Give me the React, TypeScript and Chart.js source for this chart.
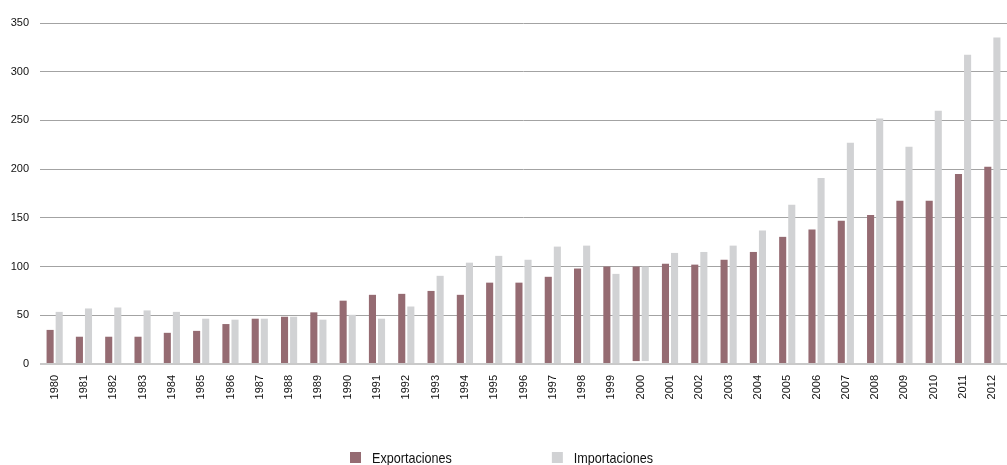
import React, { useEffect, useRef } from "react";
import { Chart, registerables } from "chart.js";

Chart.register(...registerables);

const years: string[] = [
  "1980", "1981", "1982", "1983", "1984", "1985", "1986", "1987", "1988", "1989",
  "1990", "1991", "1992", "1993", "1994", "1995", "1996", "1997", "1998", "1999",
  "2000", "2001", "2002", "2003", "2004", "2005", "2006", "2007", "2008", "2009",
  "2010", "2011", "2012",
];

const exportaciones: (number | [number, number])[] = [
  35, 28, 28, 28, 32, 34, 41, 46.5, 48.5, 53,
  65, 71, 72, 75, 71, 83.5, 83.5, 89.5, 98, 100,
  [3, 100], 103, 102, 107, 115, 130.5, 138, 147, 153, 167.5,
  167.5, 195, 202.5,
];

const importaciones: (number | [number, number])[] = [
  53.5, 57, 58, 55, 53.5, 46.5, 45.5, 46.5, 48.5, 45.5,
  50.5, 46.5, 59, 90.5, 104, 111, 107, 120.5, 121.5, 92.5,
  [3, 100], 114, 115, 121.5, 137, 163.5, 191, 227, 252, 223,
  260, 317.5, 335,
];

const yTicks: number[] = [0, 50, 100, 150, 200, 250, 300, 350];

const FONT = "'Liberation Sans', Arial, sans-serif";
const EXP_COLOR = "#956b72";
const IMP_COLOR = "#d1d2d4";
const TEXT_COLOR = "#111111";

const legendPlugin = {
  id: "customLegend",
  afterDraw(chart: any) {
    const ctx = chart.ctx;
    const ds = chart.data.datasets;
    const fontSize = 15;
    const squeeze = 0.84;
    const box = 11;
    const boxGap = 11;
    const itemGap = 100;
    ctx.save();
    ctx.font = `${fontSize}px ${FONT}`;
    const widths = ds.map((d: any) => box + boxGap + ctx.measureText(d.label).width * squeeze);
    const total = widths.reduce((a: number, b: number) => a + b, 0) + itemGap * (ds.length - 1);
    let x = (chart.width - total) / 2 - 2;
    const boxTop = chart.height - 13;
    ds.forEach((d: any, i: number) => {
      ctx.fillStyle = d.backgroundColor;
      ctx.fillRect(x, boxTop, box, box);
      ctx.fillStyle = TEXT_COLOR;
      ctx.textBaseline = "top";
      ctx.textAlign = "left";
      ctx.save();
      ctx.translate(x + box + boxGap, boxTop - 1);
      ctx.scale(squeeze, 1);
      ctx.fillText(d.label, 0, 0);
      ctx.restore();
      x += widths[i] + itemGap;
    });
    ctx.restore();
  },
};

export default function App() {
  const ref = useRef<HTMLCanvasElement | null>(null);

  useEffect(() => {
    if (!ref.current) return;
    const chart = new Chart(ref.current, {
      type: "bar",
      data: {
        labels: years,
        datasets: [
          {
            label: "Exportaciones",
            data: exportaciones as any,
            backgroundColor: EXP_COLOR,
            categoryPercentage: 0.62,
            barPercentage: 0.78,
          },
          {
            label: "Importaciones",
            data: importaciones as any,
            backgroundColor: IMP_COLOR,
            categoryPercentage: 0.62,
            barPercentage: 0.78,
          },
        ],
      },
      options: {
        responsive: false,
        animation: false,
        layout: { padding: { top: 23, left: 0, right: 0, bottom: 0 } },
        plugins: {
          legend: { display: false },
          tooltip: { enabled: false },
        },
        scales: {
          x: {
            grid: { display: false, drawTicks: false },
            border: { display: false },
            ticks: {
              color: TEXT_COLOR,
              font: { family: FONT, size: 11 },
              maxRotation: 90,
              minRotation: 90,
              padding: 11,
              autoSkip: false,
            },
            afterFit: (s: any) => {
              s.height = 101;
              s.paddingLeft = 0;
              s.paddingRight = 0;
            },
          },
          y: {
            min: 0,
            max: 350,
            afterBuildTicks: (s: any) => {
              s.ticks = yTicks.map((v) => ({ value: v }));
            },
            grid: {
              drawTicks: false,
              color: (c: any) => (c.tick && c.tick.value === 0 ? "#c9c9c9" : "#a3a3a3"),
              lineWidth: (c: any) => (c.tick && c.tick.value === 0 ? 2 : 1),
            },
            border: { display: false },
            ticks: {
              color: TEXT_COLOR,
              font: { family: FONT, size: 11 },
              padding: 11,
            },
            afterFit: (s: any) => {
              s.width = 40;
            },
          },
        },
      },
      plugins: [legendPlugin],
    });
    return () => chart.destroy();
  }, []);

  return (
    <div style={{ position: "fixed", left: 0, top: 0, width: 1007, height: 465, background: "#fff" }}>
      <canvas ref={ref} width={1007} height={465} style={{ display: "block" }} />
    </div>
  );
}
